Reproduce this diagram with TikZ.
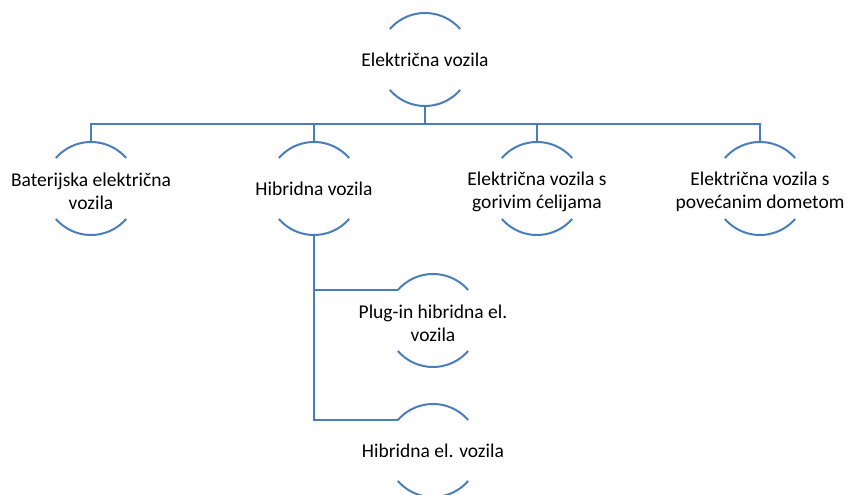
\documentclass[tikz,border=0pt]{standalone}
\usepackage{fontspec}
\setmainfont{Carlito}
\definecolor{arcblue}{RGB}{74,126,187}
\begin{document}
\begin{tikzpicture}[x=1pt,y=1pt,
  lbl/.style={font=\fontsize{19.5}{23}\selectfont, align=center, inner sep=0pt, text=black},
  two/.style={yshift=-3pt},
  arcline/.style={draw=arcblue, line width=2pt},
  conn/.style={draw=arcblue, line width=2pt}]
\def\R{46.5}
\useasboundingbox (0,0) rectangle (847,495);
\coordinate (topc) at (425,435.5);
\coordinate (b1c) at (91,306.5);
\coordinate (b2c) at (314,306.5);
\coordinate (b3c) at (537,306.5);
\coordinate (b4c) at (760,306.5);
\coordinate (c1c) at (433,174.5);
\coordinate (c2c) at (433,44.5);
\node[lbl] (top) at (topc) {Električna vozila};
\node[lbl,two] (b1) at (b1c) {Baterijska električna\\vozila};
\node[lbl] (b2) at (b2c) {Hibridna vozila};
\node[lbl,two] (b3) at (b3c) {Električna vozila s\\gorivim ćelijama};
\node[lbl,two] (b4) at (b4c) {Električna vozila s\\povećanim dometom};
\node[lbl,two] (c1) at (c1c) {Plug-in hibridna el.\\vozila};
\node[lbl] (c2) at (c2c) {Hibridna el. vozila};
\foreach \n in {topc,b1c,b2c,b3c,b4c,c1c,c2c}{
  \draw[arcline] ([shift={(41:\R)}]\n) arc[start angle=41,end angle=139,radius=\R];
  \draw[arcline] ([shift={(221:\R)}]\n) arc[start angle=221,end angle=319,radius=\R];
}
\foreach \n in {b1c,b2c,b3c,b4c}{
  \draw[conn] ([yshift=-\R]topc) -- ++(0,-18) -| ([yshift=\R]\n);
}
\draw[conn] ([yshift=-\R]b2c) |- ([shift={(139:\R)}]c1c);
\draw[conn] ([yshift=-\R]b2c) |- ([shift={(139:\R)}]c2c);
\end{tikzpicture}
\end{document}
